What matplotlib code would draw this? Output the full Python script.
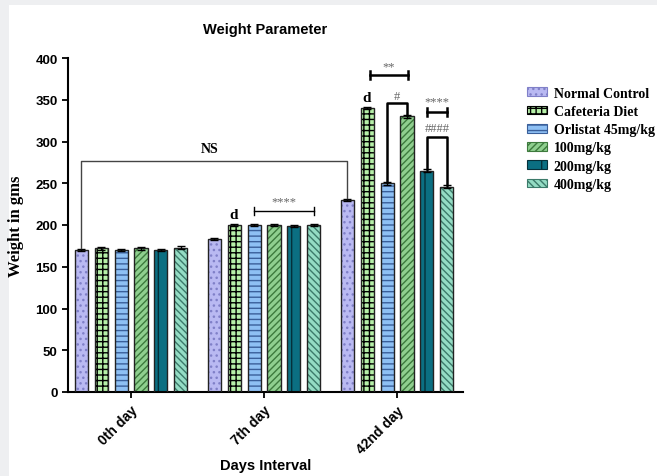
import numpy as np
import matplotlib
matplotlib.use("Agg")
import matplotlib.pyplot as plt
from matplotlib.patches import Patch, Rectangle

days = ["0th day", "7th day", "42nd day"]
groups = ["Normal Control", "Cafeteria Diet", "Orlistat 45mg/kg",
          "100mg/kg", "200mg/kg", "400mg/kg"]

normal_control = [170, 183, 230]
cafeteria_diet = [172, 200, 340]
orlistat = [170, 200, 250]
dose_100 = [172, 200, 330]
dose_200 = [170, 199, 265]
dose_400 = [173, 200, 246]
sem = [1.5, 1.5, 1.5]

series = [normal_control, cafeteria_diet, orlistat, dose_100, dose_200, dose_400]

# fill colour, hatch colour, hatch
styles = [
    ("#b9b9f2", "#8080c8", "..."),
    ("#b6f0a8", "#000000", "+++"),
    ("#8ec0f4", "#3a5f9a", "---"),
    ("#8fcf8f", "#3d7a3d", "/////"),
    ("#0b6f82", "#05303a", "|"),
    ("#94dcc4", "#3c7a6a", "\\\\\\\\\\"),
]

plt.rcParams["hatch.linewidth"] = 1.0
serif = ["Liberation Serif", "DejaVu Serif"]
sans = ["Liberation Sans", "DejaVu Sans"]

fig = plt.figure(figsize=(6.57, 4.77), dpi=100)
fig.patch.set_facecolor("#eeeff1")
fig.add_artist(Rectangle((9 / 657, -0.1), 1.2, 1.1 - 6 / 477, transform=fig.transFigure,
                         facecolor="white", edgecolor="none", zorder=0))

ax = fig.add_axes([68 / 657, 84 / 477, 395 / 657, 334 / 477])
ax.set_facecolor("white")

x = np.arange(len(days))
step = 0.15
width = 0.098
for i, (vals, (fc, hc, hatch)) in enumerate(zip(series, styles)):
    pos = x + (i - 2.5) * step
    ax.bar(pos, vals, width, color=fc, edgecolor=hc, hatch=hatch, linewidth=0, zorder=2)
    ax.bar(pos, vals, width, fill=False, edgecolor="#222222", linewidth=1.0, zorder=3)
    ax.errorbar(pos, vals, yerr=sem, fmt="none", ecolor="black", capsize=3,
                elinewidth=1, capthick=1, zorder=4)

ax.set_xlim(-0.474, 2.496)
ax.set_ylim(0, 400)
ax.set_yticks(range(0, 401, 50))
ax.set_xticks(x)
ax.set_xticklabels(days, rotation=45, ha="right", rotation_mode="anchor",
                   fontsize=10, fontweight="bold", family=sans)
for lab in ax.get_yticklabels():
    lab.set_fontsize(9.5)
    lab.set_fontweight("bold")
    lab.set_family(sans)
ax.tick_params(axis="both", direction="out", length=4, width=1.3, colors="black")
ax.tick_params(axis="x", pad=4)
for side in ["top", "right"]:
    ax.spines[side].set_visible(False)
for side in ["left", "bottom"]:
    ax.spines[side].set_linewidth(1.5)

ax.set_title("Weight Parameter", fontsize=10.5, fontweight="bold", family=sans, pad=18)
ax.set_xlabel("Days Interval", fontsize=10.5, fontweight="bold", family=sans, labelpad=2)
ax.set_ylabel("Weight in gms", fontsize=12, fontweight="bold", family=serif, labelpad=8)

# NS bracket from day 0 control to day 42 control
xl = x[0] - 2.5 * step
xr = x[2] - 2.5 * step
ax.plot([xl, xl, xr, xr], [normal_control[0] + 2, 277, 277, normal_control[2] + 2],
        color="#444444", lw=1.0, zorder=5)
ax.text(0.594, 292, "NS", ha="center", va="center", fontsize=10,
        fontweight="bold", family=serif)

# "d" marks above cafeteria diet bars
for g in (1, 2):
    ax.text(x[g] - 1.5 * step, cafeteria_diet[g] + 5, "d", ha="center", va="bottom",
            fontsize=11, fontweight="bold", family=serif)


def cap_bracket(x0, x1, y, label, ly, lw=1.3):
    ax.plot([x0, x1], [y, y], color="black", lw=lw, zorder=5)
    ax.plot([x0, x0], [y - 5, y + 5], color="black", lw=lw, zorder=5)
    ax.plot([x1, x1], [y - 5, y + 5], color="black", lw=lw, zorder=5)
    ax.text((x0 + x1) / 2, ly, label, ha="center", va="center", fontsize=9,
            color="#666666", family=serif)


def step_bracket(x0, x1, y0, y1, top, label, ly):
    ax.plot([x0, x0, x1, x1], [y0, top, top, y1], color="black", lw=1.8, zorder=5)
    ax.text((x0 + x1) / 2, ly, label, ha="center", va="center", fontsize=9,
            color="#666666", family=serif)


cap_bracket(x[1] - 0.5 * step, x[1] + 2.5 * step, 217, "****", 228, lw=1.0)
cap_bracket(x[2] - 1.5 * step + 0.02, x[2] + 0.5 * step + 0.005, 380, "**", 390, lw=1.8)
step_bracket(x[2] - 0.5 * step, x[2] + 0.5 * step, orlistat[2] + 2, dose_100[2] + 2,
             346, "#", 355)
cap_bracket(x[2] + 1.5 * step, x[2] + 2.5 * step, 335, "****", 348, lw=1.8)
step_bracket(x[2] + 1.5 * step, x[2] + 2.5 * step, dose_200[2] + 2, dose_400[2] + 2,
             305, "####", 316)

handles = [Patch(facecolor=fc, edgecolor=hc, hatch=h, linewidth=0.8)
           for fc, hc, h in styles]
fig.legend(handles, groups, loc="upper left", bbox_to_anchor=(521 / 657, 1 - 82 / 477),
           frameon=False, prop={"family": serif, "weight": "bold", "size": 10},
           handlelength=1.45, handleheight=0.6, handletextpad=0.5, labelspacing=0.38,
           borderaxespad=0)

fig.savefig("out.png", dpi=100)
